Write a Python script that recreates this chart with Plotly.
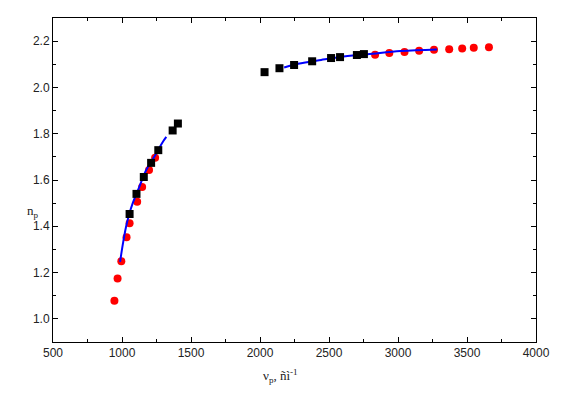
import plotly.graph_objects as go

# Series 1 (red circles)
red_x = [945, 968, 995, 1033, 1055, 1110, 1146, 1196, 1240,
         2834, 2937, 3047, 3153, 3261, 3371, 3465, 3549, 3659]
red_y = [1.078, 1.174, 1.249, 1.353, 1.413, 1.506, 1.570, 1.643, 1.696,
         2.141, 2.149, 2.153, 2.159, 2.163, 2.165, 2.168, 2.171, 2.174]

# Series 2 (black squares)
blk_x = [1055, 1105, 1158, 1211, 1263, 1367, 1405,
         2033, 2141, 2247, 2378, 2515, 2580, 2702, 2753]
blk_y = [1.453, 1.540, 1.613, 1.674, 1.729, 1.814, 1.844,
         2.066, 2.083, 2.097, 2.113, 2.127, 2.131, 2.140, 2.144]

# Fit curves (blue)
fit1_x = [986, 1007, 1029, 1053, 1076, 1124, 1173, 1245, 1292, 1321]
fit1_y = [1.246, 1.326, 1.397, 1.454, 1.497, 1.568, 1.640, 1.711, 1.761, 1.786]
fit2_x = [2175, 2276, 2443, 2635, 2779, 3019, 3282]
fit2_y = [2.086, 2.102, 2.119, 2.136, 2.143, 2.157, 2.164]

y_ticks = [1.0, 1.2, 1.4, 1.6, 1.8, 2.0, 2.2]
y_ticktext = ["1.0", "1.2", "1.4", "1.6", "1.8", "2.0", "2.2"]

fig = go.Figure()
fig.add_trace(go.Scatter(x=red_x, y=red_y, mode="markers",
                         marker=dict(symbol="circle", size=8, color="#ff0000"),
                         showlegend=False))
fig.add_trace(go.Scatter(x=fit1_x, y=fit1_y, mode="lines",
                         line=dict(color="#0000ff", width=2, shape="spline"),
                         showlegend=False))
fig.add_trace(go.Scatter(x=fit2_x, y=fit2_y, mode="lines",
                         line=dict(color="#0000ff", width=2, shape="spline"),
                         showlegend=False))
fig.add_trace(go.Scatter(x=blk_x, y=blk_y, mode="markers",
                         marker=dict(symbol="square", size=8, color="#000000"),
                         showlegend=False))

axis_common = dict(showgrid=False, zeroline=False, showline=True,
                   linecolor="black", linewidth=1, mirror="allticks",
                   ticks="inside", ticklen=5, tickcolor="black",
                   tickfont=dict(family="Liberation Sans, Arial", size=12, color="#222"))

fig.update_xaxes(range=[500, 4000], tickmode="linear", tick0=500, dtick=500,
                 minor=dict(ticks="inside", ticklen=3, dtick=250, tick0=500, tickcolor="black"),
                 **axis_common)
fig.update_yaxes(range=[0.9, 2.3], tickmode="array",
                 tickvals=y_ticks, ticktext=y_ticktext,
                 minor=dict(ticks="inside", ticklen=3, dtick=0.1, tick0=0.9, tickcolor="black"),
                 **axis_common)

fig.add_annotation(text="ν<sub>p</sub>, ñì<sup>-1</sup>", xref="paper", yref="paper",
                   x=0.47, y=-0.105, showarrow=False, xanchor="center", yanchor="middle",
                   font=dict(family="Liberation Serif, Times New Roman", size=13, color="#222"))
fig.add_annotation(text="n<sub>p</sub>", xref="paper", yref="paper",
                   x=-0.041, y=0.402, showarrow=False, xanchor="center", yanchor="middle",
                   font=dict(family="Liberation Serif, Times New Roman", size=13, color="#222"))

# page body has an 8px margin, so the figure is offset by 8px
fig.update_layout(width=551, height=378, plot_bgcolor="white", paper_bgcolor="white",
                  margin=dict(l=45, r=19, t=9, b=44))

fig.write_html("out.html")
